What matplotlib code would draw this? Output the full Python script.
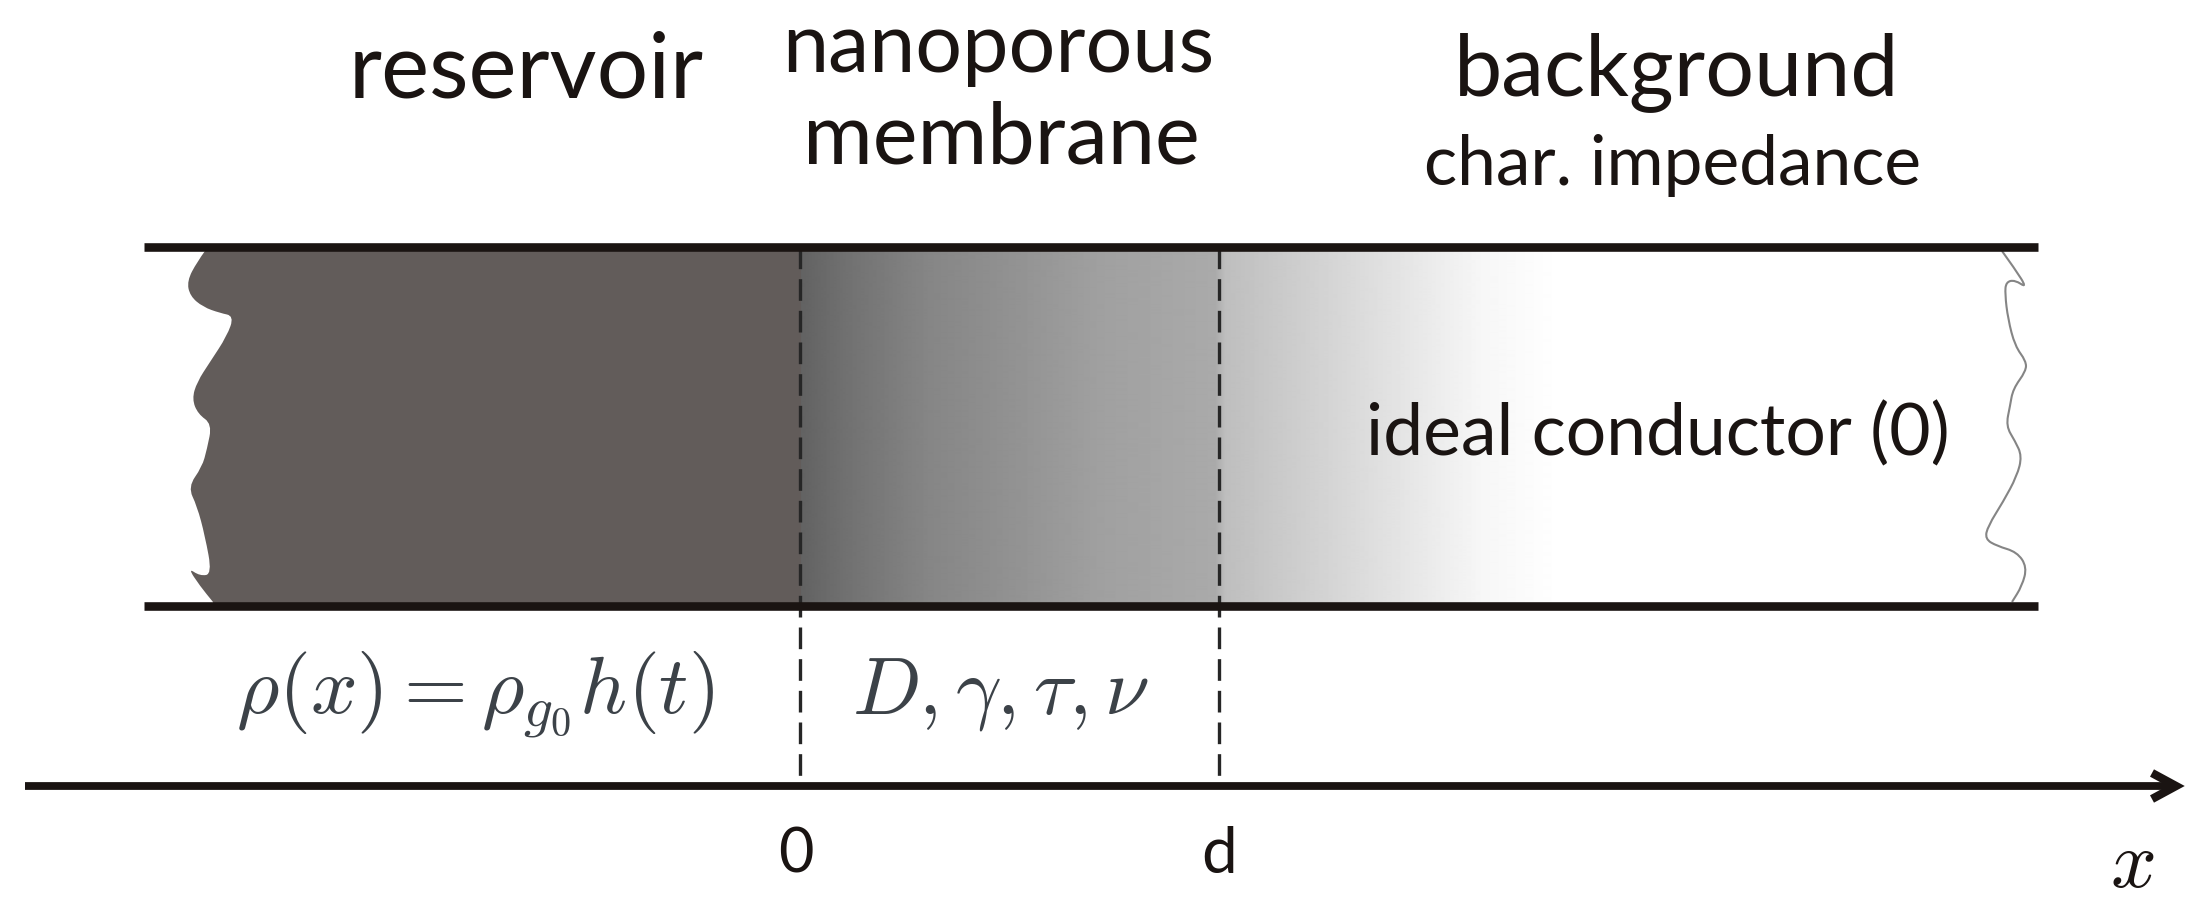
import numpy as np
from matplotlib import pyplot as plt
from matplotlib.path import Path
from matplotlib.patches import PathPatch

plt.rcParams['mathtext.fontset'] = 'cm'
TEXT_FONT = ['Lato', 'DejaVu Sans']

#### Diagram geometry in pixels ####
channel_left = 144
channel_right = 2038
channel_top = 248
channel_bottom = 607
membrane_edges = [800, 1219]
axis_y = 787
axis_start = 25
axis_end = 2172

# torn edge of the dark reservoir
torn_x = [205, 197, 187, 190, 203, 220, 234, 227, 210, 197, 192, 198, 212, 207, 202, 188,
          197, 205, 212, 200, 188, 200, 213]
torn_y = [252, 263, 282, 297, 308, 314, 317, 337, 363, 383, 400, 415, 425, 450, 468, 488,
          507, 537, 575, 577, 569, 587, 603]

# thin torn edge of the conductor
wiggle_x = [2002, 2015, 2027, 2015, 2006, 2005, 2008, 2015, 2026, 2026, 2013, 2010, 2006,
            2015, 2022, 2017, 2003, 1988, 1985, 1997, 2017, 2027, 2022, 2012]
wiggle_y = [252, 270, 289, 281, 283, 295, 320, 347, 362, 372, 390, 407, 427,
            442, 457, 477, 503, 527, 540, 547, 553, 568, 587, 603]

# grey level along the channel
gradient_x = [780, 800, 850, 930, 1000, 1100, 1215, 1225, 1300, 1400, 1480, 1560]
gradient_grey = [0x62, 0x62, 0x72, 0x86, 0x90, 0xa0, 0xaa, 0xbe, 0xce, 0xe4, 0xf6, 0xff]


def smooth_verts(xs, ys):
    # quadratic curve through the midpoints, ends stay on the first and last point
    pts = np.column_stack([xs, ys]).astype(float)
    verts = [pts[0]]
    codes = [Path.MOVETO]
    for i in range(1, len(pts) - 1):
        verts += [pts[i], (pts[i] + pts[i + 1]) / 2]
        codes += [Path.CURVE3, Path.CURVE3]
    verts.append(pts[-1])
    codes.append(Path.LINETO)
    return verts, codes


fig = plt.figure(figsize=(22.08, 9.2), dpi=100)
ax = fig.add_axes([0, 0, 1, 1])

#### Reservoir and gradient ####
xs = np.arange(800, 1560)
greys = np.interp(xs, gradient_x, gradient_grey) / 255
ax.imshow(greys[np.newaxis, :], cmap="gray", vmin=0, vmax=1, aspect="auto", zorder=1,
          extent=(800, 1560, channel_bottom, channel_top), interpolation="bilinear")
ax.set_xlim(0, 2208)
ax.set_ylim(920, 0)
ax.axis("off")

dark = (0x62 / 255, 0x5c / 255, 0x5a / 255)
verts, codes = smooth_verts(torn_x, torn_y)
verts += [(213, channel_bottom), (801, channel_bottom), (801, channel_top), (205, channel_top), verts[0]]
codes += [Path.LINETO, Path.LINETO, Path.LINETO, Path.LINETO, Path.CLOSEPOLY]
ax.add_patch(PathPatch(Path(verts, codes), facecolor=dark, edgecolor="none", zorder=1))

# right edge of the conductor
verts, codes = smooth_verts(wiggle_x, wiggle_y)
ax.add_patch(PathPatch(Path(verts, codes), facecolor="none", edgecolor="#858585", linewidth=1.5, zorder=2))

#### Channel walls, membrane limits and x axis ####
line_color = "#1a1412"
for y in [channel_top, channel_bottom]:
    ax.plot([channel_left, channel_right], [y, y], color=line_color, linewidth=6.2,
            solid_capstyle="butt", zorder=3)

for x in membrane_edges:
    ax.plot([x, x], [channel_top, axis_y - 8], color="#262626", linewidth=2.4,
            linestyle=(0, (6.5, 3)), zorder=2)

ax.plot([axis_start, axis_end], [axis_y, axis_y], color=line_color, linewidth=5.6,
        solid_capstyle="butt", zorder=3)
ax.plot([2152, 2176, 2152], [774, axis_y, 800], color=line_color, linewidth=6.0,
        solid_joinstyle="miter", solid_capstyle="butt", zorder=3)

#### Labels ####
text_color = "#1a1412"
ax.text(526, 97, "reservoir", fontsize=65.5, family=TEXT_FONT, color=text_color, ha="center", va="baseline")
ax.text(998, 72, "nanoporous", fontsize=59.5, family=TEXT_FONT, color=text_color, ha="center", va="baseline")
ax.text(1001, 163, "membrane", fontsize=61, family=TEXT_FONT, color=text_color, ha="center", va="baseline")
ax.text(1677, 95, "background", fontsize=62, family=TEXT_FONT, color=text_color, ha="center", va="baseline")
ax.text(1672, 185, "char. impedance", fontsize=50, family=TEXT_FONT, color=text_color, ha="center", va="baseline")
ax.text(1658, 455, "ideal conductor (0)", fontsize=51.5, family=TEXT_FONT, color=text_color, ha="center", va="baseline")
ax.text(796, 873, "0", fontsize=44, family=TEXT_FONT, color=text_color, ha="center", va="baseline")
ax.text(1219, 873, "d", fontsize=46, family=TEXT_FONT, color=text_color, ha="center", va="baseline")

math_color = "#3c4248"
ax.text(475, 714, r"$\rho(x) = \rho_{g_0} h(t)$", fontsize=59, color=math_color, ha="center", va="baseline")
ax.text(1001, 714, r"$D, \gamma, \tau, \nu$", fontsize=58, color=math_color, ha="center", va="baseline")
ax.text(2132, 887, r"$x$", fontsize=58, color=text_color, ha="center", va="baseline")

plt.savefig("out.png", dpi=100, facecolor="white")
